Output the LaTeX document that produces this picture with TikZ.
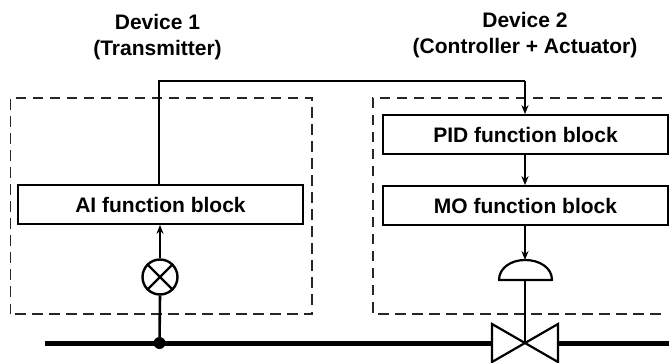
\documentclass[tikz,border=0pt]{standalone}
\usepackage{fontspec}
\setmainfont{Liberation Sans}
\usetikzlibrary{arrows.meta}
\tikzset{
  fblock/.style={draw,line width=1.7pt,minimum width=285pt,minimum height=39pt,inner sep=0pt,font=\fontsize{21}{26}\selectfont\bfseries},
  title/.style={align=center,inner sep=0pt,font=\fontsize{21}{26.5}\selectfont\bfseries},
  devbox/.style={draw=black!85,line width=1.3pt,dash pattern=on 10.5pt off 6.5pt},
  sig/.style={line width=1.7pt,-{Stealth[length=9pt,width=7pt]}},
  wire/.style={line width=1.7pt},
  stem/.style={line width=2.2pt},
  pipe/.style={line width=5pt},
  sensor/.style={draw,circle,line width=2.4pt,minimum size=35pt,inner sep=0pt},
  junct/.style={fill,circle,minimum size=12pt,inner sep=0pt},
}
\begin{document}
\begin{tikzpicture}[x=1pt,y=-1pt]
\useasboundingbox (0,0) rectangle (669,363);
\node[title] (d1) at (157.5,37) {Device 1\\(Transmitter)};
\node[title] (d2) at (525,35) {Device 2\\(Controller + Actuator)};
% dashed device outlines
\draw[devbox] (10.5,314) -- (10.5,98) -- (312,98) -- (312,314) -- cycle;
\draw[devbox] (662,98) -- (373,98) -- (373,314) -- (662,314);
% pipe
\coordinate (pl) at (45,343);
\coordinate (vc) at (525,343);
\coordinate (vl) at (492,343);
\coordinate (vr) at (558,343);
\coordinate (pr) at (669,343);
\node[junct] (tap) at (159.5,343) {};
\draw[pipe] (pl) -- (vl);
\draw[pipe] (vr) -- (pr);
% function blocks
\node[fblock] (ai) at (160.5,204.5) {AI function block};
\node[fblock] (pid) at (525.5,134.5) {PID function block};
\node[fblock] (mo) at (525.5,205.5) {MO function block};
% sensor
\node[sensor] (sen) at (160,277) {};
\draw[line width=2.2pt] (sen.north west) -- (sen.south east) (sen.north east) -- (sen.south west);
\draw[stem,line width=2.6pt] (sen.south) -- (tap);
\draw[sig] (sen.north) -- (sen.north |- ai.south);
% signal path
\coordinate (c1) at (159,81);
\coordinate (c2) at (525,81);
\draw[wire] (c1 |- ai.north) -- (c1) -- (c2);
\draw[sig] (c2) -- (c2 |- pid.north);
\draw[sig] (c2 |- pid.south) -- (c2 |- mo.north);
% actuator
\coordinate (dl) at (499,280);
\coordinate (dr) at (552,280);
\coordinate (dt) at (525,260);
\draw[stem,line join=round] (dl) .. controls (499,268) and (511,260) .. (dt) .. controls (540,260) and (552,268) .. (dr) -- cycle;
\draw[sig] (c2 |- mo.south) -- (c2 |- dt);
\draw[stem] (525,280) -- (vc);
% valve
\draw[stem,line join=miter] (vc) -- (492,324) -- (492,362) -- cycle;
\draw[stem,line join=miter] (vc) -- (558,324) -- (558,362) -- cycle;
\end{tikzpicture}
\end{document}
